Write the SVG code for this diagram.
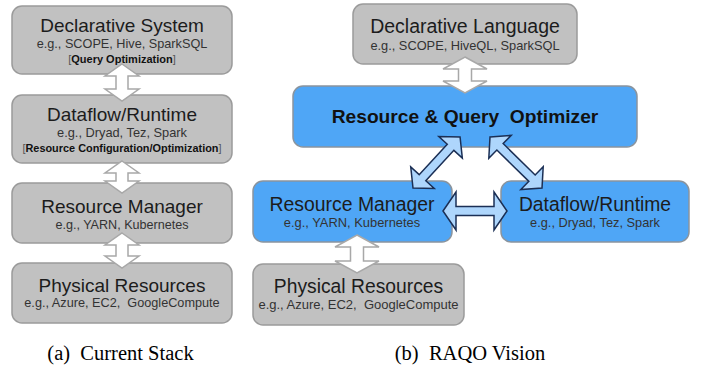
<svg xmlns="http://www.w3.org/2000/svg" width="704" height="368" viewBox="0 0 704 368">
<style>
.gbox{fill:#c1c1c1;stroke:#9b9b9b;stroke-width:1.5}
.bbox{fill:#4fa6f6;stroke:#8a949e;stroke-width:1.5}
.t{font-family:"Liberation Sans",Arial,sans-serif;fill:#1c1c1c;text-anchor:middle}
.s{font-family:"Liberation Sans",Arial,sans-serif;fill:#333;text-anchor:middle}
.b{font-family:"Liberation Sans",Arial,sans-serif;font-weight:bold;fill:#111;text-anchor:middle}
.br{font-weight:normal;fill:#555}
.cap{font-family:"Liberation Serif","Times New Roman",serif;font-size:20.5px;fill:#000;text-anchor:middle}
.warr{fill:#fff;stroke:#a8a8a8;stroke-width:1.5;stroke-linejoin:miter}
.barr{fill:#aed6fc;stroke:#1b2f55;stroke-width:1.5;stroke-linejoin:miter}
</style>
<rect width="704" height="368" fill="#fff"/>

<g id="a-declarative-system">
<rect class="gbox" x="12" y="6" width="220" height="68" rx="10"/>
<text class="t" x="122" y="32" font-size="19">Declarative System</text>
<text class="s" x="122" y="48" font-size="12.7">e.g., SCOPE, Hive, SparkSQL</text>
<text class="b" x="122" y="63" font-size="11"><tspan class="br">[</tspan>Query Optimization<tspan class="br">]</tspan></text>
</g>
<g id="a-dataflow-runtime">
<rect class="gbox" x="12" y="95" width="220" height="68" rx="10"/>
<text class="t" x="122" y="121" font-size="19">Dataflow/Runtime</text>
<text class="s" x="122" y="137" font-size="12.8">e.g., Dryad, Tez, Spark</text>
<text class="b" x="122" y="152" font-size="10.9"><tspan class="br">[</tspan>Resource Configuration/Optimization<tspan class="br">]</tspan></text>
</g>
<g id="a-resource-manager">
<rect class="gbox" x="12" y="183" width="220" height="60" rx="10"/>
<text class="t" x="122" y="213" font-size="19">Resource Manager</text>
<text class="s" x="122" y="229" font-size="12.6">e.g., YARN, Kubernetes</text>
</g>
<g id="a-physical-resources">
<rect class="gbox" x="12" y="263" width="220" height="60" rx="10"/>
<text class="t" x="122" y="292" font-size="19">Physical Resources</text>
<text class="s" x="122" y="307" font-size="12.7" xml:space="preserve">e.g., Azure, EC2,  GoogleCompute</text>
</g>

<g id="b-declarative-language">
<rect class="gbox" x="353" y="4" width="224" height="60" rx="10"/>
<text class="t" x="465" y="33" font-size="19.5">Declarative Language</text>
<text class="s" x="465" y="50" font-size="12.8">e.g., SCOPE, HiveQL, SparkSQL</text>
</g>
<g id="b-optimizer">
<rect class="bbox" x="293" y="86" width="344" height="61" rx="10"/>
<text class="b" x="465" y="123" font-size="19.2" xml:space="preserve">Resource &amp; Query  Optimizer</text>
</g>
<g id="b-resource-manager">
<rect class="bbox" x="253" y="181" width="199" height="61" rx="10"/>
<text class="t" x="352" y="211" font-size="19.4">Resource Manager</text>
<text class="s" x="352" y="227" font-size="12.9">e.g., YARN, Kubernetes</text>
</g>
<g id="b-dataflow-runtime">
<rect class="bbox" x="501" y="181" width="188" height="61" rx="10"/>
<text class="t" x="595" y="211" font-size="19.3">Dataflow/Runtime</text>
<text class="s" x="595" y="227" font-size="12.8">e.g., Dryad, Tez, Spark</text>
</g>
<g id="b-physical-resources">
<rect class="gbox" x="253" y="264" width="211" height="61" rx="10"/>
<text class="t" x="358.5" y="293" font-size="19.3">Physical Resources</text>
<text class="s" x="358.5" y="309" font-size="13" xml:space="preserve">e.g., Azure, EC2,  GoogleCompute</text>
</g>

<g id="connectors">
<path class="warr" d="M122,64 L139,76 L128,76 L128,89 L139,89 L122,101 L105,89 L116,89 L116,76 L105,76 Z"/>
<path class="warr" d="M122,161 L139,173 L128,173 L128,181 L139,181 L122,193 L105,181 L116,181 L116,173 L105,173 Z"/>
<path class="warr" d="M122,233 L139,245 L128,245 L128,256 L139,256 L122,268 L105,256 L116,256 L116,245 L105,245 Z"/>
<path class="warr" d="M465,57 L487,69 L471.5,69 L471.5,81 L487,81 L465,93 L443,81 L458.5,81 L458.5,69 L443,69 Z"/>
<path class="warr" d="M357,235 L379,247 L363.5,247 L363.5,261 L379,261 L357,273 L335,261 L350.5,261 L350.5,247 L335,247 Z"/>
<path class="barr" d="M443,211 L456,192 L456,206.5 L494,206.5 L494,192 L507,211 L494,230 L494,215.5 L456,215.5 L456,230 Z"/>
<path class="barr" transform="translate(413,188) rotate(-47.3)" d="M0,0 L14,-16 L14,-4.5 L55.4,-4.5 L55.4,-16 L69.4,0 L55.4,16 L55.4,4.5 L14,4.5 L14,16 Z"/>
<path class="barr" transform="translate(490,137) rotate(44.4)" d="M0,0 L14,-16 L14,-4.5 L58.8,-4.5 L58.8,-16 L72.8,0 L58.8,16 L58.8,4.5 L14,4.5 L14,16 Z"/>
</g>

<text class="cap" x="120.5" y="360" xml:space="preserve">(a)  Current Stack</text>
<text class="cap" x="470" y="360" xml:space="preserve">(b)  RAQO Vision</text>
</svg>
